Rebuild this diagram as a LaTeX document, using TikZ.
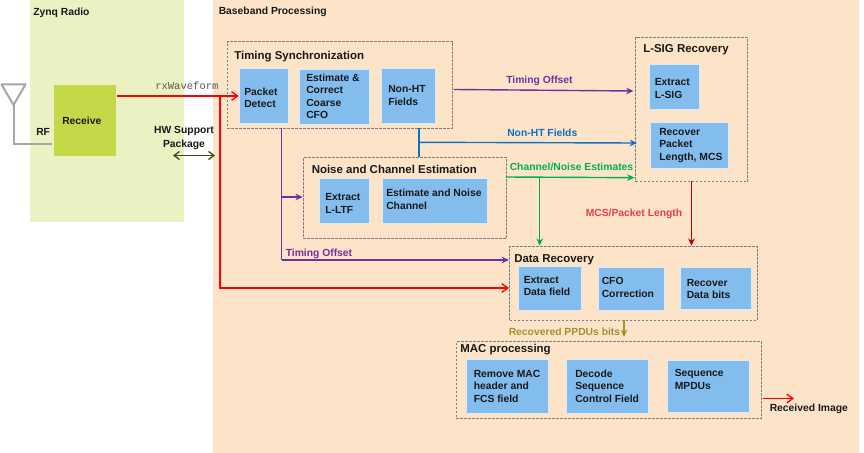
\documentclass[tikz,border=0pt]{standalone}
\usepackage{fontspec}
\setmainfont{Liberation Sans}
\setmonofont{Liberation Mono}
\usetikzlibrary{arrows.meta,calc}
\definecolor{zynqbg}{HTML}{EAF2C3}
\definecolor{basebg}{HTML}{FDE4C8}
\definecolor{recv}{HTML}{C5D948}
\definecolor{blk}{HTML}{82BDEE}
\definecolor{ant}{HTML}{A6A6A6}
\definecolor{frm}{HTML}{7F7F7F}
\definecolor{purp}{HTML}{7030A0}
\definecolor{bluel}{HTML}{0F70BE}
\definecolor{grn}{HTML}{00B050}
\definecolor{dred}{HTML}{C00000}
\definecolor{lred}{HTML}{E5404A}
\definecolor{oliv}{HTML}{A39030}
\definecolor{hw}{HTML}{3F4A1A}
\tikzset{
  bx/.style={draw=white!70!blk,line width=.4pt,fill=blk,anchor=north west,inner sep=0pt},
  dframe/.style={draw=frm,dash pattern=on 2pt off 1pt,line width=.8pt,anchor=north west,inner sep=0pt},
  txt/.style={anchor=west,inner sep=0pt,align=left,font=\bfseries\fontsize{7.75pt}{9.4pt}\selectfont,text=black!90},
  lbl/.style={txt,yshift=-1pt},
  ttl/.style={txt,yshift=-1pt,font=\bfseries\fontsize{8.6pt}{10pt}\selectfont},
  redln/.style={draw=red,line width=1pt,-{Straight Barb[length=4.5pt,width=6.5pt]}},
  purpln/.style={draw=purp,line width=1.05pt,-{Stealth[length=5.5pt,width=5pt]}},
  bluln/.style={draw=bluel,line width=1.05pt,-{Stealth[length=5.5pt,width=5pt]}},
  grnln/.style={draw=grn,line width=1.05pt,-{Stealth[length=5.5pt,width=5pt]}},
}
\newcommand\blockbox[5]{\node[bx,minimum width={(#4-#2)*0.75pt},minimum height={(#5-#3)*0.75pt}] (#1) at (#2,#3) {};}
\newcommand\dashframe[5]{\node[dframe,minimum width={(#4-#2)*0.75pt},minimum height={(#5-#3)*0.75pt}] (#1) at (#2,#3) {};}
\begin{document}
\begin{tikzpicture}[x=0.75pt,y=-0.75pt]
\useasboundingbox (0,0) rectangle (864,453);
\fill[zynqbg] (30,0) rectangle (184,222);
\fill[basebg] (213,0) rectangle (859,453);
\node[lbl] (zynqT) at (33,11) {Zynq Radio};
\node[lbl] (baseT) at (218.5,10.5) {Baseband Processing};
% antenna
\draw[ant,line width=1.5pt,line join=round] (1.5,84.5) -- (25.5,84.5) -- (13.5,105) -- cycle;
\node[fill=recv,anchor=north west,inner sep=0pt,minimum width=46.5pt,minimum height=53.25pt] (recvB) at (54,85) {};
\coordinate (antFoot) at (13.5,105);
\coordinate (antCorner) at (13.5,144);
\coordinate (antEnd) at (52,144);
\draw[ant,line width=1.5pt] (antFoot) -- (antCorner) -- (antEnd);
\node[txt] (recvT) at (62,120.5) {Receive};
\node[lbl] (rfT) at (36,131) {RF};
\node[anchor=west,inner sep=0pt,font=\ttfamily\fontsize{7.9pt}{9pt}\selectfont,text=black!65] (rxT) at (155,86) {rxWaveform};
\node[txt,align=center,anchor=center] (hwT) at (184,138) {HW Support\\[.4pt]Package};
\coordinate (hwL) at (173,155.5);
\coordinate (hwR) at (215,155.5);
\draw[hw,line width=1pt,{Straight Barb[length=4pt,width=6pt]}-{Straight Barb[length=4pt,width=6pt]}] (hwL) -- (hwR);
% frames
\dashframe{tsF}{226.5}{41}{452}{128}
\dashframe{neF}{302.7}{156.7}{505.7}{238}
\dashframe{lsF}{635}{36.7}{747}{181}
\dashframe{drF}{509}{245.7}{756.5}{319.7}
\dashframe{maF}{455.7}{341.3}{761}{418}
\node[ttl] (tsT) at (234,55) {Timing Synchronization};
\node[ttl] (neT) at (311.5,168) {Noise and Channel Estimation};
\node[ttl] (lsT) at (643,48.5) {L-SIG Recovery};
\node[ttl] (drT) at (514,258) {Data Recovery};
\node[ttl] (maT) at (460,348.5) {MAC processing};
% blocks
\blockbox{pdB}{238.7}{68}{288}{122.5}
\node[txt] (pdT) at (244,97.7) {Packet\\Detect};
\blockbox{ecB}{299}{69}{369}{123.5}
\node[txt] (ecT) at (306,96.2) {Estimate \&\\Correct\\Coarse\\CFO};
\blockbox{nhB}{380.7}{68}{434.5}{122.5}
\node[txt] (nhT) at (388,95.7) {Non-HT\\Fields};
\blockbox{llB}{319}{177.7}{368.7}{223}
\node[txt] (llT) at (325,203.2) {Extract\\L-LTF};
\blockbox{enB}{382}{177.7}{487}{223}
\node[txt] (enT) at (386,199.2) {Estimate and Noise\\Channel};
\blockbox{elB}{648.7}{64}{698.5}{108.7}
\node[txt] (elT) at (654.5,88.7) {Extract\\L-SIG};
\blockbox{rpB}{649.7}{122.3}{727.5}{167.5}
\node[txt] (rpT) at (659,145.5) {Recover\\Packet\\Length, MCS};
\blockbox{edB}{518.3}{266}{581}{310}
\node[txt] (edT) at (523.5,286.2) {Extract\\Data field};
\blockbox{cfB}{598.3}{267}{664}{309.5}
\node[txt] (cfT) at (601.5,287.7) {CFO\\Correction};
\blockbox{rdB}{680.3}{267}{750.5}{309}
\node[txt] (rdT) at (686.5,289.2) {Recover\\Data bits};
\blockbox{rmB}{465.7}{359}{547.5}{412.5}
\node[txt] (rmT) at (473.5,386) {Remove MAC\\header and\\FCS field};
\blockbox{dcB}{565.7}{359}{647.5}{412.5}
\node[txt] (dcT) at (575,386) {Decode\\Sequence\\Control Field};
\blockbox{sqB}{666.7}{359.5}{748.5}{412}
\node[txt] (sqT) at (674.5,379.7) {Sequence\\MPDUs};
% red connectors
\coordinate (rxS) at (117,96);
\coordinate (rxJ) at (220,96);
\coordinate (rxC) at (220,288);
\draw[redln] (rxS) -- (rxS -| pdB.west);
\draw[redln] (rxJ) -- (rxC) -- (rxC -| drF.west);
% purple
\coordinate (toS) at (454,89.5);
\coordinate (toE) at (633.5,91);
\draw[purpln] (toS) -- (toE);
\node[lbl,text=purp] (toT) at (506,79.5) {Timing Offset};
\coordinate (pS) at (281.7,128);
\coordinate (pB) at (281.7,197);
\coordinate (pC) at (281.7,260);
\draw[purpln,-] (pS) -- (pC);
\draw[purpln] (pB) -- (pB -| neF.west);
\draw[purpln] (pC) -- (pC -| drF.west);
\node[lbl,text=purp] (to2T) at (285.5,252.5) {Timing Offset};
% blue
\coordinate (bS) at (419,128);
\coordinate (bJ) at (419,142.3);
\coordinate (bE) at (637,143);
\draw[bluel,line width=1.05pt] (bS) -- (bS |- neF.north);
\draw[bluln] (bJ) -- (bE);
\node[lbl,text=bluel] (nhL) at (507,131) {Non-HT Fields};
% green
\coordinate (gS) at (505.7,177);
\coordinate (gE) at (634.5,177.7);
\coordinate (gJ) at (539.7,177.2);
\draw[grnln] (gS) -- (gE);
\draw[grnln] (gJ) -- (gJ |- drF.north);
\node[lbl,text=grn] (gT) at (509.5,165.5) {Channel/Noise Estimates};
% dark red
\coordinate (mS) at (691.5,181);
\draw[draw=dred,line width=1.05pt,-{Stealth[length=5.5pt,width=5pt]}] (mS) -- (mS |- drF.north);
\node[lbl,text=lred] (mT) at (585.5,212.5) {MCS/Packet Length};
% olive
\coordinate (oS) at (624,319.7);
\coordinate (oE) at (624,337);
\draw[draw=oliv,line width=.8pt,-{Stealth[length=5.5pt,width=5pt]}] (oS) -- (oE);
\node[lbl,text=oliv] (oT) at (508.5,330.5) {Recovered PPDUs bits};
% output
\coordinate (oIn) at (763,398.5);
\coordinate (oOut) at (794,398.5);
\draw[redln] (oIn) -- (oOut);
\node[lbl] (riT) at (769.5,408) {Received Image};
\end{tikzpicture}
\end{document}
